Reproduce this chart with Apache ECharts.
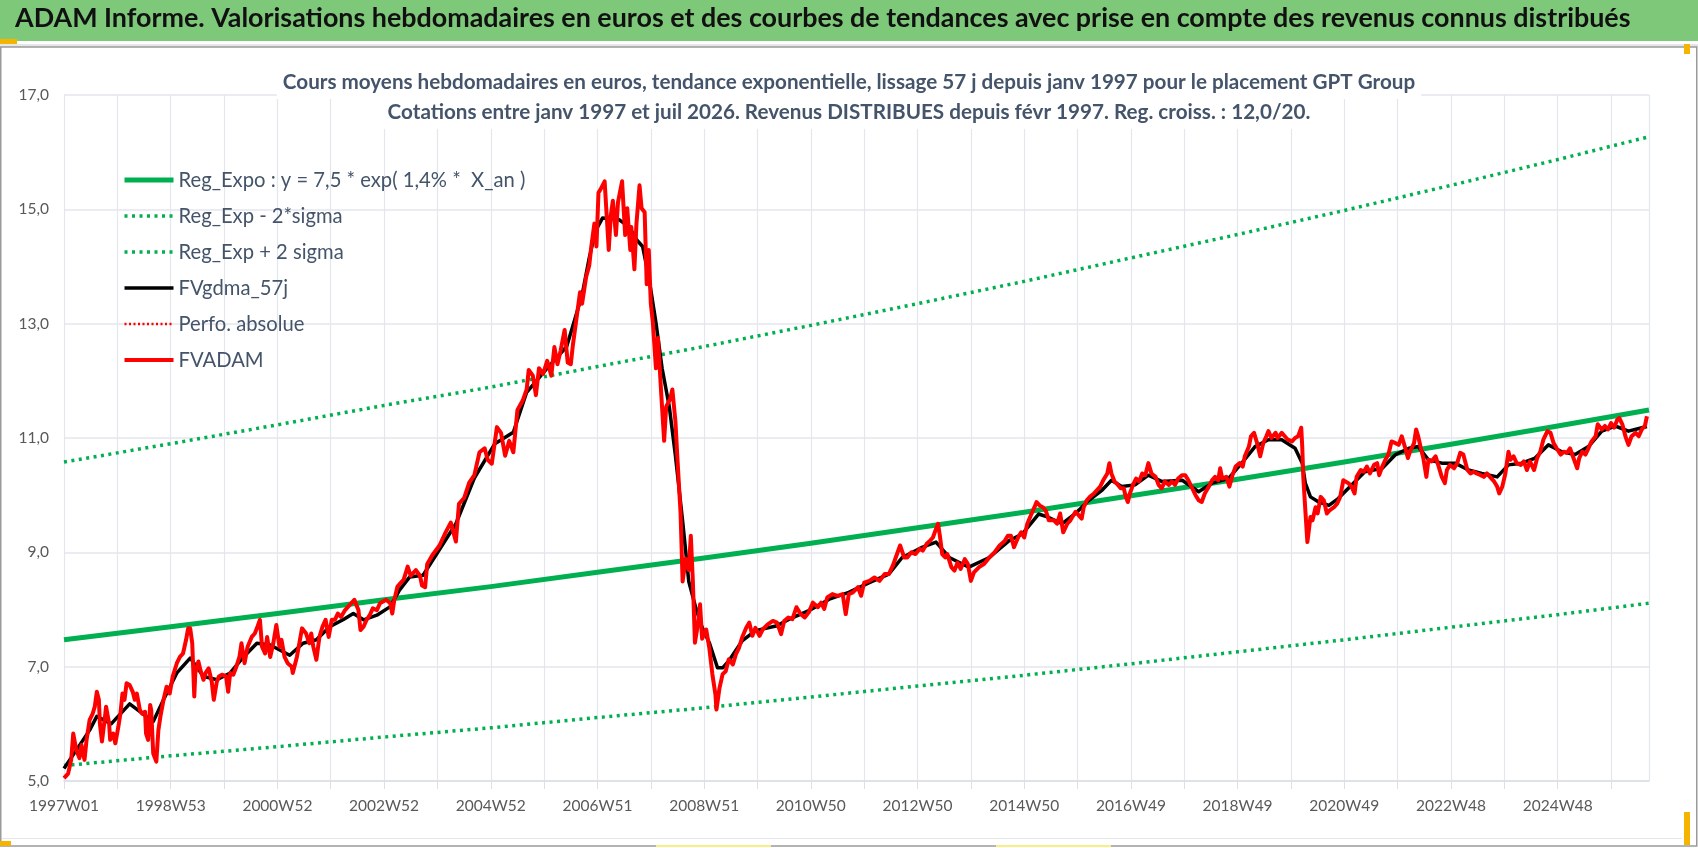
<!DOCTYPE html>
<html>
<head>
<meta charset="utf-8">
<script src="https://cdn.jsdelivr.net/npm/echarts@6/dist/echarts.min.js"></script>
<style>
  html, body { margin: 0; padding: 0; background: #fff; }
  #chart { width: 1698px; height: 848px; }
</style>
</head>
<body>
<div id="chart"></div>
<script>
// libellés de l'axe des semaines (un tous les 104 points hebdo)
const tickLabels = ['1997W01', '1998W53', '2000W52', '2002W52', '2004W52', '2006W51', '2008W51',
  '2010W50', '2012W50', '2014W50', '2016W49', '2018W49', '2020W49', '2022W48', '2024W48']
const lastWeek = 1545

// courbes de tendance, lues tous les deux ans
const trendWeeks = [0, 104, 208, 312, 416, 520, 624, 728, 832, 936, 1040, 1144, 1248, 1352, 1456, 1545]
const regExpo = [7.47, 7.70, 7.93, 8.17, 8.40, 8.65, 8.90, 9.16, 9.43, 9.70, 9.99, 10.28, 10.58, 10.89, 11.21, 11.49]
const regMinus2Sigma = [5.27, 5.44, 5.60, 5.77, 5.93, 6.11, 6.28, 6.47, 6.66, 6.85, 7.05, 7.26, 7.47, 7.69, 7.91, 8.11]
const regPlus2Sigma = [10.58, 10.90, 11.23, 11.57, 11.89, 12.25, 12.60, 12.97, 13.35, 13.74, 14.15, 14.56, 14.98, 15.42, 15.87, 16.27]

// moyenne mobile 57 j : [semaine, valeur]
const fvgdma = [
  [0, 5.22], [12, 5.54], [25, 5.89], [32, 6.13], [46, 6.00], [64, 6.35], [87, 6.04], [97, 6.42], [110, 6.89],
  [123, 7.15], [136, 6.83], [149, 6.77], [162, 6.89], [175, 7.17], [188, 7.41], [201, 7.38], [220, 7.20],
  [233, 7.41], [246, 7.47], [259, 7.70], [272, 7.82], [282, 7.93], [292, 7.82], [305, 7.90], [318, 8.05],
  [327, 8.34], [337, 8.57], [350, 8.60], [366, 9.05], [382, 9.50], [400, 10.30], [420, 10.90], [438, 11.10],
  [451, 11.80], [470, 12.20], [490, 12.60], [505, 13.50], [512, 14.15], [518, 14.62], [525, 14.85],
  [541, 14.82], [551, 14.69], [559, 14.45], [564, 14.35], [570, 13.82], [577, 13.02], [583, 12.22],
  [590, 11.55], [596, 10.69], [603, 9.55], [609, 8.49], [616, 8.02], [622, 7.69], [629, 7.42], [637, 6.98],
  [642, 6.98], [648, 7.10], [661, 7.45], [674, 7.63], [694, 7.71], [707, 7.83], [726, 7.98], [746, 8.18],
  [765, 8.30], [785, 8.47], [804, 8.62], [817, 8.91], [837, 9.09], [850, 9.18], [863, 8.91], [882, 8.74],
  [902, 8.91], [921, 9.20], [934, 9.32], [950, 9.67], [960, 9.61], [973, 9.50], [986, 9.68], [999, 9.91],
  [1012, 10.09], [1021, 10.26], [1031, 10.15], [1044, 10.18], [1057, 10.35], [1070, 10.24], [1090, 10.26],
  [1106, 10.06], [1119, 10.21], [1135, 10.29], [1148, 10.56], [1161, 10.85], [1174, 10.97], [1187, 10.97],
  [1200, 10.82], [1207, 10.56], [1210, 10.21], [1215, 9.97], [1223, 9.88], [1233, 9.82], [1242, 9.94],
  [1252, 10.12], [1268, 10.41], [1285, 10.47], [1298, 10.71], [1311, 10.82], [1320, 10.85], [1330, 10.62],
  [1343, 10.56], [1356, 10.56], [1369, 10.44], [1382, 10.38], [1397, 10.32], [1408, 10.53], [1421, 10.56],
  [1434, 10.65], [1447, 10.88], [1460, 10.76], [1473, 10.71], [1486, 10.85], [1499, 11.12], [1512, 11.21],
  [1525, 11.12], [1538, 11.18], [1543, 11.20]
]

// cours hebdomadaires FVADAM : [semaine, valeur]
const fvadam = [
  [0, 5.05], [4, 5.13], [7, 5.37], [9, 5.83], [12, 5.54], [15, 5.40], [17, 5.63], [20, 5.37], [22, 5.72],
  [25, 6.07], [28, 6.18], [30, 6.30], [32, 6.56], [34, 6.42], [35, 6.00], [37, 5.69], [40, 6.13], [41, 6.30],
  [44, 6.00], [45, 5.72], [48, 5.83], [50, 5.66], [53, 5.95], [55, 6.18], [57, 6.53], [59, 6.42], [61, 6.71],
  [64, 6.68], [67, 6.56], [69, 6.42], [71, 6.53], [74, 6.24], [76, 6.18], [79, 6.21], [80, 5.83], [82, 5.72],
  [84, 6.33], [85, 6.24], [87, 5.48], [90, 5.34], [92, 5.89], [94, 6.13], [97, 6.42], [100, 6.65], [103, 6.53],
  [106, 6.83], [110, 7.06], [113, 7.17], [116, 7.23], [119, 7.47], [121, 7.67], [123, 7.67], [125, 7.41],
  [127, 6.48], [128, 6.89], [131, 7.09], [133, 6.94], [136, 6.77], [138, 6.89], [141, 6.97], [144, 6.74],
  [146, 6.42], [149, 6.74], [151, 6.83], [154, 6.86], [158, 6.83], [160, 6.56], [162, 6.89], [165, 6.86],
  [168, 7.00], [171, 7.17], [173, 7.41], [176, 7.06], [179, 7.35], [183, 7.52], [186, 7.58], [188, 7.67],
  [191, 7.82], [193, 7.35], [196, 7.23], [198, 7.52], [201, 7.17], [204, 7.41], [207, 7.73], [210, 7.35],
  [212, 7.47], [215, 7.17], [218, 7.06], [222, 7.00], [223, 6.89], [227, 7.17], [230, 7.47], [232, 7.67],
  [236, 7.58], [239, 7.41], [241, 7.58], [243, 7.35], [246, 7.12], [249, 7.52], [252, 7.70], [255, 7.82],
  [258, 7.52], [261, 7.82], [264, 7.82], [267, 7.93], [270, 7.87], [274, 7.99], [277, 8.05], [280, 8.11],
  [283, 8.17], [287, 7.99], [289, 7.64], [292, 7.70], [295, 7.82], [298, 7.90], [301, 8.02], [305, 7.99],
  [308, 8.11], [311, 8.14], [314, 8.17], [318, 8.11], [320, 7.93], [322, 8.17], [325, 8.40], [328, 8.46],
  [331, 8.52], [333, 8.63], [335, 8.75], [338, 8.59], [343, 8.69], [347, 8.59], [349, 8.42], [352, 8.39],
  [354, 8.79], [359, 8.95], [366, 9.12], [372, 9.35], [377, 9.52], [382, 9.19], [385, 9.85], [390, 9.95],
  [395, 10.22], [400, 10.35], [405, 10.75], [410, 10.82], [413, 10.62], [417, 10.55], [422, 11.19],
  [426, 11.09], [430, 10.69], [434, 10.95], [438, 10.75], [442, 11.49], [447, 11.65], [451, 11.85],
  [453, 12.19], [457, 12.09], [460, 11.75], [463, 12.22], [467, 12.12], [471, 12.35], [475, 12.09],
  [478, 12.59], [481, 12.29], [484, 12.52], [488, 12.89], [491, 12.32], [494, 12.29], [496, 12.62],
  [500, 13.15], [503, 13.55], [505, 13.35], [509, 13.82], [512, 14.02], [514, 14.35], [517, 14.75],
  [519, 14.35], [521, 15.29], [523, 15.35], [527, 15.49], [529, 14.89], [531, 14.29], [533, 14.89],
  [535, 15.15], [538, 14.55], [540, 15.12], [544, 15.49], [547, 14.55], [549, 15.02], [552, 14.29],
  [553, 14.69], [556, 13.95], [558, 14.75], [561, 15.42], [563, 15.02], [566, 14.95], [568, 13.69],
  [570, 14.29], [572, 13.35], [574, 13.02], [577, 12.22], [579, 12.75], [582, 11.82], [585, 10.95],
  [587, 11.55], [591, 11.69], [593, 11.85], [596, 11.29], [598, 10.62], [601, 9.69], [603, 8.49],
  [606, 8.89], [609, 8.69], [611, 9.29], [613, 8.49], [615, 7.42], [618, 7.75], [620, 8.09], [622, 7.49],
  [626, 7.65], [629, 7.33], [632, 6.87], [635, 6.51], [636, 6.25], [639, 6.63], [642, 6.87], [645, 6.92],
  [648, 7.13], [652, 7.04], [655, 7.22], [658, 7.33], [661, 7.51], [665, 7.68], [668, 7.77], [671, 7.54],
  [674, 7.68], [678, 7.54], [681, 7.65], [686, 7.74], [691, 7.80], [695, 7.77], [699, 7.57], [702, 7.80],
  [706, 7.86], [710, 7.83], [714, 8.04], [718, 7.92], [722, 7.86], [726, 7.95], [730, 8.12], [735, 8.04],
  [738, 8.12], [741, 8.01], [744, 8.21], [749, 8.27], [754, 8.24], [759, 8.27], [762, 7.92], [765, 8.27],
  [769, 8.30], [774, 8.39], [777, 8.24], [780, 8.47], [785, 8.50], [790, 8.56], [795, 8.50], [800, 8.62],
  [804, 8.62], [808, 8.77], [812, 8.97], [815, 9.12], [819, 8.91], [822, 8.91], [826, 9.00], [830, 8.97],
  [834, 9.06], [837, 9.03], [841, 9.15], [844, 9.20], [847, 9.26], [850, 9.41], [852, 9.50], [854, 9.26],
  [856, 8.97], [859, 8.91], [861, 8.97], [865, 8.74], [868, 8.68], [871, 8.82], [874, 8.71], [878, 8.88],
  [881, 8.80], [884, 8.50], [887, 8.65], [892, 8.74], [897, 8.80], [902, 8.91], [907, 9.00], [912, 9.12],
  [917, 9.20], [920, 9.29], [923, 9.29], [926, 9.09], [930, 9.26], [933, 9.35], [936, 9.26], [939, 9.50],
  [943, 9.67], [946, 9.79], [948, 9.88], [951, 9.82], [954, 9.79], [957, 9.73], [960, 9.56], [965, 9.56],
  [968, 9.50], [971, 9.68], [974, 9.35], [978, 9.50], [981, 9.56], [986, 9.71], [989, 9.65], [992, 9.59],
  [994, 9.79], [997, 9.91], [1000, 9.97], [1004, 10.03], [1007, 10.09], [1010, 10.15], [1013, 10.26],
  [1017, 10.38], [1019, 10.56], [1021, 10.38], [1024, 10.24], [1026, 10.21], [1030, 10.12], [1033, 10.12],
  [1035, 9.97], [1037, 9.88], [1039, 10.03], [1042, 10.18], [1045, 10.29], [1048, 10.24], [1051, 10.38],
  [1054, 10.35], [1057, 10.56], [1060, 10.38], [1064, 10.32], [1067, 10.18], [1070, 10.12], [1073, 10.24],
  [1077, 10.18], [1080, 10.24], [1083, 10.18], [1086, 10.29], [1090, 10.35], [1093, 10.35], [1096, 10.26],
  [1099, 10.15], [1103, 10.00], [1106, 9.91], [1109, 9.88], [1112, 10.03], [1116, 10.15], [1119, 10.26],
  [1122, 10.32], [1125, 10.26], [1127, 10.47], [1129, 10.29], [1133, 10.32], [1136, 10.15], [1139, 10.35],
  [1142, 10.50], [1146, 10.56], [1149, 10.50], [1151, 10.68], [1155, 10.85], [1157, 11.03], [1160, 11.09],
  [1163, 10.91], [1166, 10.68], [1169, 10.91], [1172, 11.03], [1174, 11.12], [1177, 11.00], [1181, 11.09],
  [1183, 11.00], [1187, 11.09], [1190, 11.03], [1193, 10.97], [1197, 10.94], [1200, 11.00], [1203, 11.03],
  [1206, 11.18], [1207, 10.85], [1208, 10.32], [1210, 9.74], [1212, 9.18], [1213, 9.32], [1215, 9.62],
  [1217, 9.56], [1220, 9.79], [1222, 9.68], [1225, 9.97], [1228, 9.91], [1231, 9.68], [1234, 9.74],
  [1238, 9.79], [1241, 9.85], [1244, 9.97], [1247, 10.26], [1252, 10.21], [1255, 10.15], [1258, 10.03],
  [1260, 10.32], [1264, 10.44], [1267, 10.41], [1270, 10.50], [1273, 10.38], [1277, 10.53], [1280, 10.56],
  [1282, 10.35], [1285, 10.50], [1288, 10.62], [1291, 10.71], [1294, 10.94], [1298, 10.91], [1301, 10.88],
  [1304, 11.03], [1307, 10.85], [1310, 10.65], [1312, 10.76], [1316, 10.91], [1318, 11.15], [1320, 11.03],
  [1323, 10.79], [1325, 10.65], [1328, 10.32], [1330, 10.62], [1333, 10.59], [1337, 10.68], [1340, 10.50],
  [1343, 10.32], [1346, 10.21], [1348, 10.44], [1351, 10.53], [1355, 10.47], [1358, 10.56], [1361, 10.74],
  [1364, 10.71], [1368, 10.44], [1371, 10.38], [1374, 10.41], [1377, 10.38], [1381, 10.35], [1384, 10.32],
  [1387, 10.38], [1390, 10.32], [1394, 10.24], [1397, 10.15], [1399, 10.03], [1402, 10.15], [1405, 10.38],
  [1408, 10.76], [1410, 10.62], [1413, 10.68], [1416, 10.56], [1420, 10.53], [1423, 10.59], [1426, 10.44],
  [1429, 10.59], [1433, 10.44], [1436, 10.65], [1439, 10.76], [1442, 10.97], [1446, 11.12], [1449, 11.09],
  [1452, 10.91], [1455, 10.82], [1459, 10.71], [1462, 10.76], [1465, 10.74], [1468, 10.82], [1472, 10.62],
  [1475, 10.47], [1477, 10.65], [1480, 10.76], [1483, 10.71], [1486, 10.82], [1489, 10.94], [1493, 11.03],
  [1495, 11.24], [1499, 11.15], [1502, 11.21], [1505, 11.15], [1508, 11.26], [1511, 11.18], [1514, 11.32],
  [1516, 11.35], [1519, 11.24], [1522, 11.03], [1525, 10.88], [1528, 11.03], [1532, 11.09], [1535, 11.03],
  [1538, 11.15], [1541, 11.21], [1543, 11.38]
]

const heading = 'ADAM Informe. Valorisations hebdomadaires en euros et des courbes de tendances avec prise en compte des revenus connus distribués'
const subtitle1 = 'Cours moyens hebdomadaires en euros, tendance exponentielle, lissage 57 j depuis janv 1997 pour le placement GPT Group'
const subtitle2 = 'Cotations entre janv 1997 et juil 2026. Revenus DISTRIBUES depuis févr 1997. Reg. croiss. : 12,0/20.'
const legendNames = ['Reg_Expo : y = 7,5 * exp( 1,4% *  X_an )', 'Reg_Exp - 2*sigma', 'Reg_Exp + 2 sigma',
  'FVgdma_57j', 'Perfo. absolue', 'FVADAM']

const FONT = 'Lato, "Noto Sans", sans-serif'

// taille de police pour qu'un texte occupe une largeur donnée
function fitSize(text, weight, width) {
  const ctx = document.createElement('canvas').getContext('2d')
  ctx.font = weight + ' 20px ' + FONT
  return 20 * width / ctx.measureText(text).width
}

const headSize = fitSize(heading, 'bold', 1616)
const subSize = fitSize(subtitle1, 'bold', 1133)
const legendSize = fitSize(legendNames[0], 'normal', 347)
const axisSize = fitSize('1997W01', 'normal', 70)

const zip = (xs, ys) => xs.map((x, i) => [x, ys[i]])

const DOTS = [3, 4.5]
const styles = [
  { color: '#00b050', width: 5, type: 'solid' },
  { color: '#00b050', width: 3.5, type: DOTS },
  { color: '#00b050', width: 3.5, type: DOTS },
  { color: '#000000', width: 3.5, type: 'solid' },
  { color: '#ff0000', width: 2.5, type: [2, 2.5] },
  { color: '#ff0000', width: 4, type: 'solid' }
]

function lineSeries(i, data) {
  const s = styles[i]
  return {
    name: legendNames[i],
    type: 'line',
    data,
    symbol: 'none',
    showSymbol: false,
    silent: true,
    lineStyle: { color: s.color, width: s.width, type: s.type, cap: 'butt', join: 'round' },
    itemStyle: { color: s.color }
  }
}

function subtitleBox(text, top) {
  return {
    text,
    left: 'center',
    top,
    padding: [4, 6, 4, 6],
    backgroundColor: '#fff',
    textStyle: { fontFamily: FONT, fontWeight: 'bold', fontSize: subSize, lineHeight: 26, color: '#44546a' }
  }
}

const chart = echarts.init(document.getElementById('chart'))

chart.setOption({
  animation: false,
  backgroundColor: '#fff',
  graphic: [
    { type: 'rect', shape: { x: 0, y: 0, width: 1698, height: 41 }, style: { fill: '#7ec87a' }, z: -10 },
    { type: 'rect', shape: { x: 0, y: 44, width: 1698, height: 3 }, style: { fill: '#e4e6e8' }, z: -10 },
    { type: 'rect', shape: { x: 0.75, y: 47, width: 1696, height: 799 },
      style: { fill: 'none', stroke: '#9a9a9a', lineWidth: 1.5 }, z: -10 },
    { type: 'rect', shape: { x: 2, y: 838, width: 1680, height: 1 }, style: { fill: '#e4e6e8' }, z: -10 },
    { type: 'rect', shape: { x: 0, y: 39, width: 17, height: 5 }, style: { fill: '#f5b400' } },
    { type: 'rect', shape: { x: 0, y: 841, width: 11, height: 5 }, style: { fill: '#f5b400' } },
    { type: 'rect', shape: { x: 1684, y: 44, width: 6, height: 10 }, style: { fill: '#f5b400' } },
    { type: 'rect', shape: { x: 1684, y: 812, width: 6, height: 33 }, style: { fill: '#f5b400' } },
    { type: 'rect', shape: { x: 656, y: 845, width: 115, height: 2 }, style: { fill: '#f7ee8a' } },
    { type: 'rect', shape: { x: 996, y: 845, width: 115, height: 2 }, style: { fill: '#f7ee8a' } }
  ],
  title: [
    {
      text: heading,
      left: 15,
      top: 21 - headSize * 0.62,
      padding: 0,
      textStyle: { fontFamily: FONT, fontWeight: 'bold', fontSize: headSize, color: '#111' }
    },
    subtitleBox(subtitle1, 65),
    subtitleBox(subtitle2, 95)
  ],
  legend: {
    orient: 'vertical',
    left: 117,
    top: 165,
    itemWidth: 49,
    itemHeight: 20,
    itemGap: 16,
    selectedMode: false,
    itemStyle: { opacity: 0 },
    data: legendNames.map((name, i) => ({
      name,
      lineStyle: { width: styles[i].width, type: styles[i].type, color: styles[i].color, cap: 'butt' }
    })),
    textStyle: { fontFamily: FONT, fontSize: legendSize, color: '#44546a', lineHeight: 20 }
  },
  grid: { left: 64, right: 49, top: 95, bottom: 67, containLabel: false },
  xAxis: {
    type: 'value',
    min: 0,
    max: lastWeek,
    interval: 52,
    axisLine: { show: true, lineStyle: { color: '#dcdfe5', width: 1.5 } },
    axisTick: { show: true, length: 8, lineStyle: { color: '#dcdfe5' } },
    splitLine: { show: true, lineStyle: { color: '#e3e6ec', width: 1.2 } },
    axisLabel: {
      margin: 17,
      showMaxLabel: false,
      fontFamily: FONT,
      fontSize: axisSize,
      color: '#595959',
      formatter: v => (v % 104 === 0 ? tickLabels[v / 104] || '' : '')
    }
  },
  yAxis: {
    type: 'value',
    min: 5,
    max: 17,
    interval: 2,
    axisLine: { show: false },
    axisTick: { show: false },
    splitLine: { show: true, lineStyle: { color: '#e3e6ec', width: 1.5 } },
    axisLabel: {
      margin: 15,
      fontFamily: FONT,
      fontSize: axisSize,
      color: '#595959',
      formatter: v => v.toFixed(1).replace('.', ',')
    }
  },
  series: [
    lineSeries(0, zip(trendWeeks, regExpo)),
    lineSeries(1, zip(trendWeeks, regMinus2Sigma)),
    lineSeries(2, zip(trendWeeks, regPlus2Sigma)),
    lineSeries(3, fvgdma),
    lineSeries(4, []),
    lineSeries(5, fvadam)
  ]
})
</script>
</body>
</html>
